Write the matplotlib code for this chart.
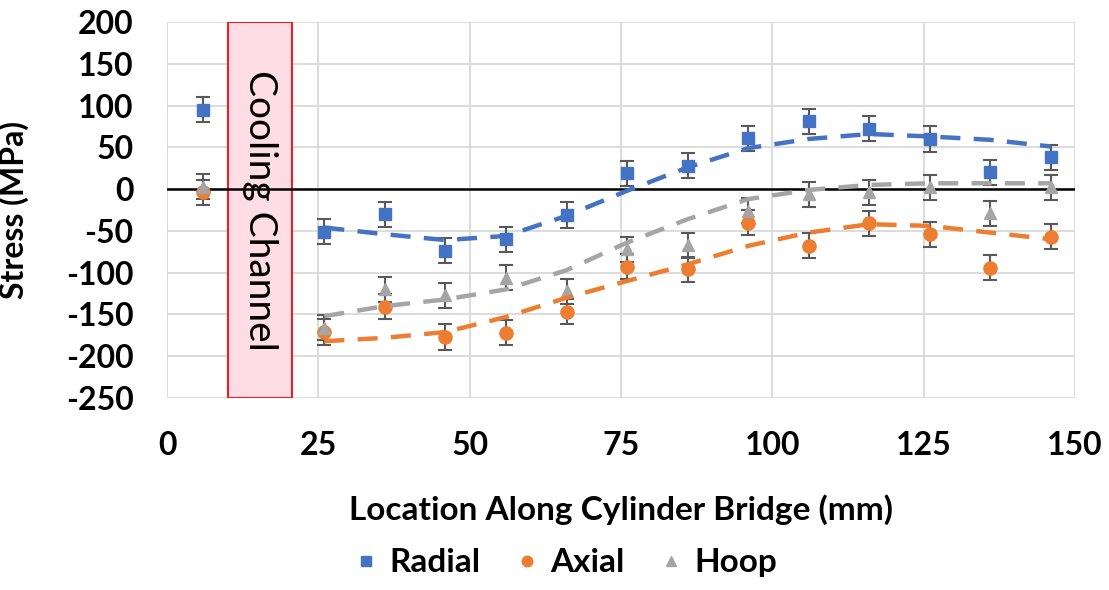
import matplotlib.pyplot as plt

plt.rcParams['font.family'] = ['Lato', 'DejaVu Sans']
plt.rcParams['axes.unicode_minus'] = False

# location along bridge (mm)
loc = [6, 26, 36, 46, 56, 66, 76, 86, 96, 106, 116, 126, 136, 146]
radial = [95, -51, -30, -74, -60, -31, 19, 28, 61, 81, 72, 60, 20, 38]
axial = [-4, -171, -141, -177, -172, -147, -93, -96, -40, -68, -41, -54, -94, -57]
hoop = [3, -166, -120, -127, -106, -122, -72, -67, -26, -6, -4, 2, -29, 2]
err = [15] * len(loc)

# dashed trend curves
fit_loc = [26, 36, 46, 56, 66, 76, 86, 96, 106, 116, 126, 136, 146]
radial_fit = [-46, -54, -61, -56, -32, -2, 26, 49, 60, 66, 63, 59, 51]
axial_fit = [-182, -178, -171, -153, -130, -110, -90, -68, -52, -42, -44, -52, -60]
hoop_fit = [-152, -140, -132, -120, -97, -64, -36, -12, -1, 5, 7, 7, 7]

names = ['Radial', 'Axial', 'Hoop']
colors = ['#4472C4', '#ED7D31', '#A5A5A5']
markers = ['s', 'o', '^']
msizes = [9, 9.5, 9]

fig = plt.figure(figsize=(11.09, 5.90), dpi=100)
ax = fig.add_axes([0.1506, 0.3254, 0.8187, 0.6373])

# cooling channel box
ax.axvspan(10, 20.7, facecolor='#FFDDE6', edgecolor='#FF0000', lw=1.3, zorder=1)
ax.text(15.35, -25, 'Cooling Channel', rotation=-90, ha='center', va='center',
        fontsize=28, color='black', zorder=2)

ax.axhline(0, color='black', lw=1.8, zorder=2)

for vals, fit, name, c, m, ms in zip([radial, axial, hoop], [radial_fit, axial_fit, hoop_fit],
                                     names, colors, markers, msizes):
    ax.errorbar(loc, vals, yerr=err, fmt=m, color=c, ms=ms, ecolor='#595959',
                elinewidth=1.5, capsize=5, capthick=1.5, label=name, zorder=3)
    ax.plot(fit_loc, fit, color=c, lw=3.2, ls=(0, (4.5, 3)), zorder=4)

ax.set_xlim(0, 150)
ax.set_ylim(-250, 200)
ax.set_xticks(range(0, 151, 25))
ax.set_yticks(range(-250, 201, 50))
ax.grid(True, color='#D9D9D9', lw=1.3)
ax.set_axisbelow(True)
for s in ax.spines.values():
    s.set_visible(False)
ax.tick_params(length=0, labelsize=23, pad=24)
for lab in ax.get_xticklabels() + ax.get_yticklabels():
    lab.set_fontweight('bold')

ax.set_xlabel('Location Along Cylinder Bridge (mm)', fontsize=24, fontweight='bold')
ax.xaxis.set_label_coords(0.5, -0.255)
ax.set_ylabel('Stress (MPa)', fontsize=23, fontweight='bold')
ax.yaxis.set_label_coords(-0.152, 0.5)

handles = [plt.Line2D([], [], ls='none', marker=m, color=c, ms=ms * 0.8)
           for m, c, ms in zip(markers, colors, msizes)]
leg = fig.legend(handles, names, loc='center', bbox_to_anchor=(0.508, 0.046), ncol=3,
                 frameon=False, fontsize=24, handletextpad=0.2, columnspacing=0.9,
                 handlelength=1.0)
for t in leg.get_texts():
    t.set_fontweight('bold')

fig.savefig('out.png', dpi=100)
